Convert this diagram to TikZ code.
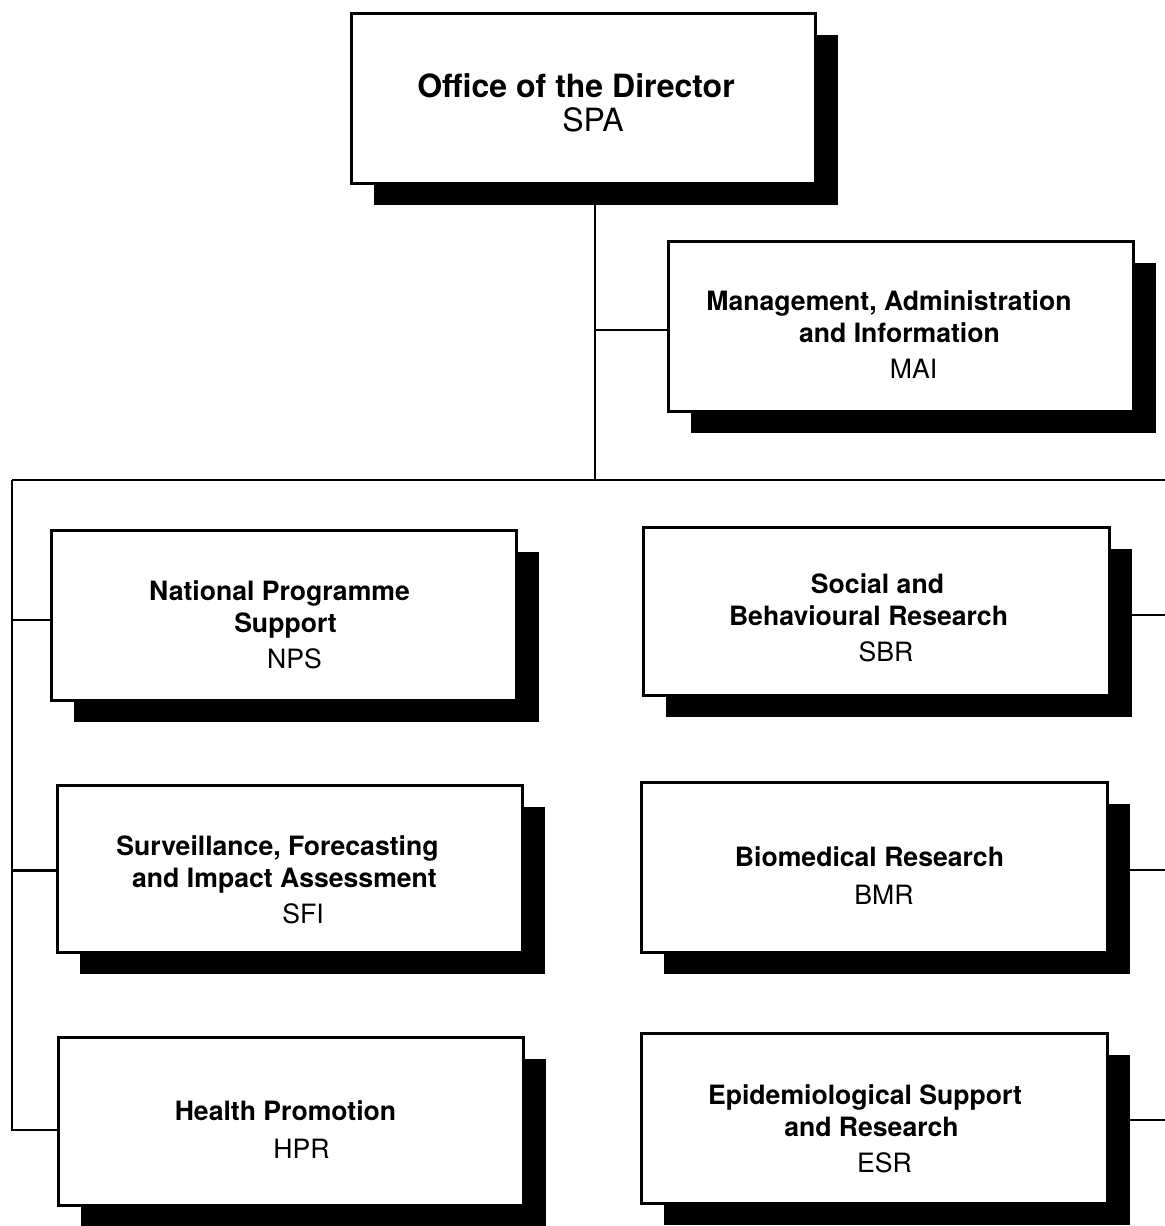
\documentclass[tikz,border=0pt]{standalone}
\usepackage{fontspec}
\setmainfont{TeX Gyre Heros}
\usetikzlibrary{shadows}
\tikzset{
  unitbox/.style={draw=black, line width=1.5pt, fill=white, minimum width=232.5pt,
    minimum height=85pt, inner sep=0pt,
    drop shadow={shadow xshift=11.5pt, shadow yshift=-11pt, fill=black, opacity=1}},
  lbl/.style={align=center, font=\fontsize{13.3}{16}\selectfont\bfseries, inner sep=0pt},
  ttl/.style={align=center, font=\fontsize{16}{17}\selectfont\bfseries, inner sep=0pt},
  conn/.style={line width=1.3pt}
}
\newcommand\abbrv[2]{\mdseries\hspace*{#1pt}#2}
\begin{document}
\begin{tikzpicture}[x=0.5pt,y=-0.5pt]
\useasboundingbox (0,0) rectangle (1165,1226);
% boxes
\node[unitbox, minimum width=232pt] (spa) at (583,98) {};
\node[unitbox] (mai) at (900.5,326) {};
\node[unitbox] (nps) at (283.5,615) {};
\node[unitbox, minimum height=83.5pt] (sfi) at (289.5,868.5) {};
\node[unitbox, minimum height=84pt] (hpr) at (290.5,1121) {};
\node[unitbox, minimum width=233pt, minimum height=84pt] (sbr) at (876,611) {};
\node[unitbox, minimum width=233pt] (bmr) at (874,867) {};
\node[unitbox, minimum width=233pt] (esr) at (874,1118) {};
% texts
\node[ttl] (spat) at ([xshift=-3.5pt,yshift=-2.5pt]spa.center) {Office of the Director\\ \abbrv{17}{SPA}};
\node[lbl] (mait) at ([xshift=-5.75pt,yshift=-4.5pt]mai.center) {Management, Administration\\ \hspace*{10.5pt}and Information\\[2pt] \abbrv{24.5}{MAI}};
\node[lbl] (npst) at ([xshift=-2pt,yshift=-5pt]nps.center) {National Programme\\ \hspace*{6pt}Support\\[2pt] \abbrv{15}{NPS}};
\node[lbl] (sfit) at ([xshift=-6pt,yshift=-5.5pt]sfi.center) {Surveillance, Forecasting\\ \hspace*{7pt}and Impact Assessment\\[2pt] \abbrv{25.5}{SFI}};
\node[lbl] (hprt) at ([xshift=-2.5pt,yshift=-4.5pt]hpr.center) {Health Promotion\\[3pt] \abbrv{16}{HPR}};
\node[lbl] (sbrt) at ([xshift=-3.75pt,yshift=-3.5pt]sbr.center) {\hspace*{9pt}Social and\\ Behavioural Research\\[2pt] \abbrv{17.5}{SBR}};
\node[lbl] (bmrt) at ([xshift=-2.25pt,yshift=-4.5pt]bmr.center) {Biomedical Research\\[3pt] \abbrv{14.5}{BMR}};
\node[lbl] (esrt) at ([xshift=-4.5pt,yshift=-5.5pt]esr.center) {Epidemiological Support\\ \hspace*{6.5pt}and Research\\[2pt] \abbrv{19.5}{ESR}};
% connector coordinates
\coordinate (j) at (595,480);
\coordinate (lt) at (12,480);
\coordinate (lb) at (12,1130);
\coordinate (re) at (1165,480);
% connectors
\draw[conn] (spa.south -| j) -- (j);
\draw[conn] ([yshift=-2pt]mai.west -| j) -- ([yshift=-2pt]mai.west);
\draw[conn] (lt) -- (re);
\draw[conn] (lt) -- (lb) -- (lb -| hpr.west);
\draw[conn] ([yshift=-2.5pt]nps.west -| lt) -- ([yshift=-2.5pt]nps.west);
\draw[conn] ([yshift=-1pt]sfi.west -| lt) -- ([yshift=-1pt]sfi.west);
\draw[conn] ([yshift=-2pt]sbr.east) -- ([yshift=-2pt]sbr.east -| re);
\draw[conn] ([yshift=-1.5pt]bmr.east) -- ([yshift=-1.5pt]bmr.east -| re);
\draw[conn] ([yshift=-1pt]esr.east) -- ([yshift=-1pt]esr.east -| re);
\end{tikzpicture}
\end{document}
